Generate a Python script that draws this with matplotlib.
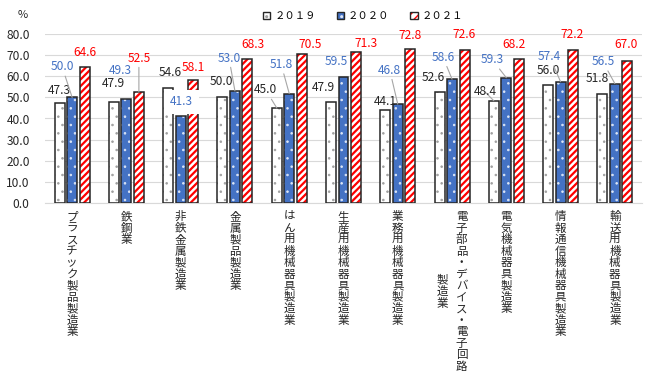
import matplotlib
matplotlib.use('Agg')
import matplotlib.pyplot as plt
from matplotlib.patches import Patch
from matplotlib.legend_handler import HandlerTuple

plt.rcParams['font.family'] = ['Noto Sans CJK JP', 'DejaVu Sans']

# ---------------- data ----------------
categories = ['プラスチック製品製造業', '鉄鋼業', '非鉄金属製造業', '金属製品製造業',
              'はん用機械器具製造業', '生産用機械器具製造業', '業務用機械器具製造業',
              '電子部品・デバイス・電子回路\n製造業', '電気機械器具製造業',
              '情報通信機械器具製造業', '輸送用機械器具製造業']
series_names = ['２０１９', '２０２０', '２０２１']
values_2019 = [47.3, 47.9, 54.6, 50.0, 45.0, 47.9, 44.1, 52.6, 48.4, 56.0, 51.8]
values_2020 = [50.0, 49.3, 41.3, 53.0, 51.8, 59.5, 46.8, 58.6, 59.3, 57.4, 56.5]
values_2021 = [64.6, 52.5, 58.1, 68.3, 70.5, 71.3, 72.8, 72.6, 68.2, 72.2, 67.0]
y_ticks = [0, 10, 20, 30, 40, 50, 60, 70, 80]

# label placement (pixel offsets from bar top), leader-line and box flags
off_2019 = [(-0.5, 13), (-1, 18.5), (2, 15), (-1, 15.5), (-11, 18), (-8, 14),
            (0, 8), (-6.5, 14), (-9, 9), (0, 14), (-5.5, 15)]
off_2020 = [(-10, 30.5), (-6, 28), (1, 14), (-6, 33), (-8, 29), (-7.5, 15.5),
            (-8, 34), (-9, 22), (-14, 18), (-11, 25), (-12, 22)]
off_2021 = [(0.5, 14), (0, 34), (0, 13), (6, 14), (8, 10), (10, 9),
            (0, 14), (0, 15), (-5, 14), (-1, 16), (-1.5, 16.5)]
lead_2019 = [0, 0, 0, 0, 1, 0, 0, 0, 1, 0, 0]
lead_2020 = [1, 0, 0, 1, 1, 0, 1, 1, 1, 1, 1]
lead_2021 = [0, 1, 0, 0, 0, 0, 0, 0, 0, 0, 0]
box_2020 = [0, 0, 1, 0, 0, 0, 0, 0, 0, 0, 0]

# ---------------- figure ----------------
W, H = 650, 386
fig = plt.figure(figsize=(W / 100, H / 100), dpi=100)
ax = fig.add_axes([45 / W, 1 - 203 / H, (642 - 45) / W, (203 - 34) / H])

edge = '#262626'
bw = 0.184
offs = [-0.23, 0.0, 0.23]
x = list(range(len(categories)))

styles = [
    dict(face='white', hcol='#A0A0A0', hatch='..', hlw=0.6),
    dict(face='#4472C4', hcol='#DDE6F6', hatch='..', hlw=0.6),
    dict(face='white', hcol='#FF0000', hatch='/////', hlw=1.6),
]
all_vals = [values_2019, values_2020, values_2021]
all_offs = [off_2019, off_2020, off_2021]
all_lead = [lead_2019, lead_2020, lead_2021]
all_box = [[0] * len(categories), box_2020, [0] * len(categories)]
label_cols = ['#262626', '#4472C4', '#FF0000']

for s, (vals, st) in enumerate(zip(all_vals, styles)):
    xs = [xi + offs[s] for xi in x]
    with plt.rc_context({'hatch.linewidth': st['hlw']}):
        ax.bar(xs, vals, width=bw, color=st['face'], edgecolor=st['hcol'],
               hatch=st['hatch'], linewidth=0, zorder=2)
    ax.bar(xs, vals, width=bw, fill=False, edgecolor=edge, linewidth=1.1, zorder=3)
    for i, v in enumerate(vals):
        dx, dy = all_offs[s][i]
        ap = dict(arrowstyle='-', color='#A6A6A6', lw=0.8, shrinkA=0, shrinkB=0) if all_lead[s][i] else None
        bb = dict(boxstyle='square,pad=0.45', fc='white', ec='none') if all_box[s][i] else None
        ax.annotate(f'{v:.1f}', xy=(xs[i], v), xytext=(dx, dy), textcoords='offset pixels',
                    ha='center', va='center', fontsize=8.6, color=label_cols[s],
                    bbox=bb, arrowprops=ap, zorder=5)

ax.set_xlim(-0.5, 10.5)
ax.set_ylim(0, 80)
ax.set_yticks(y_ticks)
ax.set_yticklabels([f'{v:.1f}' for v in y_ticks], fontsize=8.6, color='#262626')
ax.tick_params(axis='y', length=0, pad=11)
ax.set_xticks([])
ax.grid(axis='y', color='#D9D9D9', linewidth=0.8, zorder=0)
ax.set_axisbelow(True)
for sp in ['left', 'right', 'top']:
    ax.spines[sp].set_visible(False)
ax.spines['bottom'].set_color('#D9D9D9')
ax.spines['bottom'].set_linewidth(0.8)

# vertical (stacked) category labels, one character at a time
pitch = 11.5
for i, name in enumerate(categories):
    cols = name.split('\n')
    L = max(len(c) for c in cols)
    n = len(cols)
    for j, col in enumerate(cols):
        cx = (n - 1) * 9.5 - j * 19.0 if n > 1 else 0
        top = 8 + (L - len(col)) * pitch / 2
        for k, ch in enumerate(col):
            ax.annotate(ch, xy=(i, 0), xycoords=ax.get_xaxis_transform(),
                        xytext=(cx, -(top + pitch / 2 + k * pitch)),
                        textcoords='offset pixels', ha='center', va='center',
                        fontsize=8.3, color='#262626', annotation_clip=False)

fig.text(23 / W, 1 - 15 / H, '%', ha='center', va='center', fontsize=8, color='#262626')

# legend
h19 = Patch(facecolor='white', edgecolor='#A0A0A0', hatch='..', linewidth=0)
h19e = Patch(fill=False, edgecolor=edge, linewidth=1.0)
h20 = Patch(facecolor='#4472C4', edgecolor='#DDE6F6', hatch='..', linewidth=0)
h20e = Patch(fill=False, edgecolor=edge, linewidth=1.0)
h21 = Patch(facecolor='white', edgecolor='#FF0000', hatch='////', linewidth=0)
h21e = Patch(fill=False, edgecolor=edge, linewidth=1.0)
fig.legend(handles=[(h19, h19e), (h20, h20e), (h21, h21e)], labels=series_names,
           handler_map={tuple: HandlerTuple(ndivide=1)},
           loc='center', bbox_to_anchor=(363 / W, 1 - 16 / H), ncol=3, frameon=False,
           fontsize=7.5, handlelength=0.7, handleheight=0.7, handletextpad=0.4,
           columnspacing=2.0, borderpad=0)

fig.savefig('out.png', dpi=100)
